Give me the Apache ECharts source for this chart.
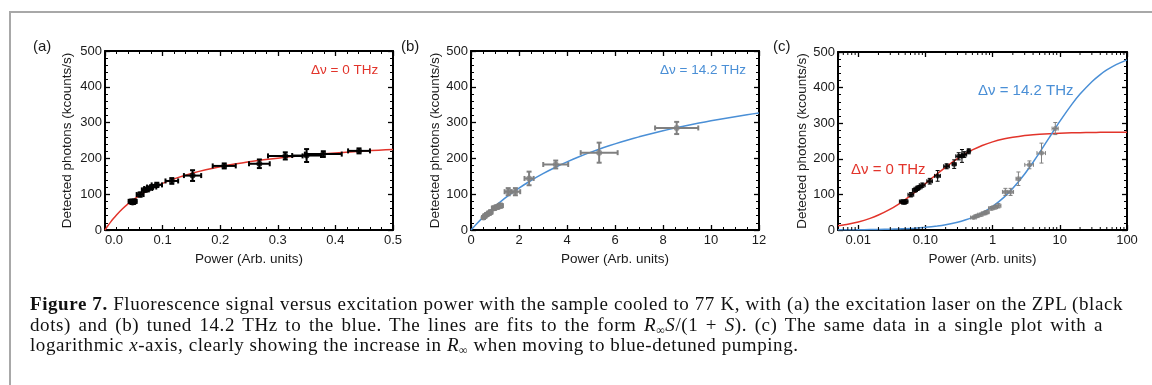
<!DOCTYPE html>
<html><head><meta charset="utf-8">
<script src="https://cdn.jsdelivr.net/npm/echarts@6/dist/echarts.min.js"></script>
<style>
html,body{margin:0;padding:0;background:#fff;}
#wrap{position:relative;width:1152px;height:385px;overflow:hidden;background:#fff;}
#chart{position:absolute;left:0;top:0;width:1152px;height:385px;}
#frame{position:absolute;left:9px;top:11px;width:1300px;height:500px;border:2px solid #a8a8a8;box-sizing:border-box;pointer-events:none;}
#cap{position:absolute;left:30px;top:294px;font-family:"Liberation Serif","DejaVu Serif",serif;font-size:19px;letter-spacing:0.57px;color:#111;line-height:20.6px;}
#cap div{white-space:nowrap;}
#cap .j1{width:1093px;text-align:justify;text-align-last:justify;}
#cap .j2{width:1073px;text-align:justify;text-align-last:justify;}
#cap sub{font-size:12px;vertical-align:-3px;line-height:0;}
</style></head>
<body>
<div id="wrap">
<div id="chart"></div>
<div id="frame"></div>
<div id="cap">
<div class="j1"><b>Figure 7.</b> Fluorescence signal versus excitation power with the sample cooled to 77 K, with (a) the excitation laser on the ZPL (black</div>
<div class="j2">dots) and (b) tuned 14.2 THz to the blue. The lines are fits to the form <i>R</i><sub>∞</sub><i>S</i>/(1 + <i>S</i>). (c) The same data in a single plot with a</div>
<div>logarithmic <i>x</i>-axis, clearly showing the increase in <i>R</i><sub>∞</sub> when moving to blue-detuned pumping.</div>
</div>
</div>
<script>
// ---- data ----
// ZPL (black) data: power, counts, power error, counts error
const zplPower  = [0.045, 0.048, 0.051, 0.061, 0.070, 0.075, 0.081, 0.090, 0.116, 0.152, 0.207, 0.268, 0.313, 0.350, 0.379, 0.441];
const zplCounts = [80, 77, 80, 99, 112, 116, 120, 126, 137, 152, 179, 185, 207, 208, 212, 221];
const zplPowErr = [0.004, 0.004, 0.004, 0.006, 0.006, 0.007, 0.008, 0.009, 0.011, 0.015, 0.020, 0.018, 0.030, 0.025, 0.032, 0.019];
const zplCntErr = [4, 4, 5, 6, 5, 5, 5, 6, 8, 15, 7, 12, 10, 18, 8, 7];
// blue-detuned (gray) data
const blPower  = [0.52, 0.58, 0.66, 0.75, 0.82, 0.96, 1.08, 1.22, 1.55, 1.85, 2.42, 3.53, 5.34, 8.57];
const blCounts = [35, 39, 43, 47, 50, 61, 64, 68, 107, 107, 144, 183, 216, 285];
const blPowErr = [0.05, 0.05, 0.06, 0.07, 0.07, 0.09, 0.10, 0.11, 0.15, 0.20, 0.19, 0.52, 0.77, 0.90];
const blCntErr = [3, 4, 4, 4, 4, 5, 5, 6, 10, 10, 19, 11, 28, 17];
// fit curves
const fitA_x = [0, 0.0025, 0.005, 0.01, 0.015, 0.02, 0.03, 0.04, 0.05, 0.06, 0.08, 0.1, 0.125, 0.15, 0.175, 0.2, 0.225, 0.25, 0.275, 0.3, 0.325, 0.35, 0.375, 0.4, 0.425, 0.45, 0.475, 0.5];
const fitA_y = [0, 6.06, 11.85, 22.73, 32.74, 41.98, 58.51, 72.85, 85.40, 96.49, 115.18, 130.33, 145.66, 158.05, 168.27, 176.85, 184.15, 190.44, 195.92, 200.73, 204.99, 208.79, 212.19, 215.26, 218.05, 220.59, 222.91, 225.04];
const fitB_x = [0, 0.25, 0.5, 0.75, 1, 1.5, 2, 2.5, 3, 3.5, 4, 4.5, 5, 5.5, 6, 6.5, 7, 7.5, 8, 8.5, 9, 9.5, 10, 10.5, 11, 11.5, 12];
const fitB_y = [0, 18.29, 35.32, 51.20, 66.06, 93.07, 116.97, 138.29, 157.41, 174.66, 190.30, 204.55, 217.58, 229.54, 240.57, 250.76, 260.20, 268.99, 277.17, 284.82, 291.98, 298.71, 305.02, 310.98, 316.59, 321.90, 326.92];
const fitC_x = [0.005, 0.007, 0.01, 0.015, 0.02, 0.03, 0.04, 0.05, 0.07, 0.1, 0.15, 0.2, 0.3, 0.4, 0.5, 0.7, 1, 1.5, 2, 3, 4, 5, 7, 10, 15, 20, 30, 40, 50, 70, 100];
const fitCred_y = [11.85, 16.31, 22.73, 32.74, 41.98, 58.51, 72.85, 85.40, 106.35, 130.33, 158.05, 176.85, 200.73, 215.26, 225.04, 237.36, 247.52, 256.05, 260.54, 265.19, 267.57, 269.03, 270.71, 271.98, 272.98, 273.48, 273.99, 274.24, 274.39, 274.56, 274.70];
const fitCblue_y = [0.38, 0.53, 0.76, 1.14, 1.51, 2.27, 3.02, 3.77, 5.26, 7.48, 11.14, 14.74, 21.79, 28.65, 35.32, 48.11, 66.06, 93.07, 116.97, 157.41, 190.30, 217.58, 260.20, 305.02, 352.21, 381.74, 416.67, 436.64, 449.58, 465.33, 477.89];
// tick labels / tick positions for the log axis
const logTickVals = [0.01, 0.1, 1, 10, 100];
const logTickLabels = ['0.01', '0.10', '1', '10', '100'];
const logMinorTicks = [0.006, 0.007, 0.008, 0.009, 0.02, 0.03, 0.04, 0.05, 0.06, 0.07, 0.08, 0.09,
  0.2, 0.3, 0.4, 0.5, 0.6, 0.7, 0.8, 0.9, 2, 3, 4, 5, 6, 7, 8, 9, 20, 30, 40, 50, 60, 70, 80, 90];

const zip = (...arrs) => arrs[0].map((_, i) => arrs.map(a => a[i]));

const RED = '#e2342b', BLUE = '#4a8fd6', GRAY = '#808080';
const grids = [
  {left: 105, top: 51, width: 288, height: 179},
  {left: 471, top: 51, width: 288, height: 179},
  {left: 838, top: 52, width: 289, height: 178}
];
const FONT = 'Liberation Sans, Arial, sans-serif';

function xAxes(gi, base, extra) {
  const common = Object.assign({
    gridIndex: gi, axisLine: {onZero: false, lineStyle: {color: '#000', width: 2}},
    axisTick: {inside: true, length: 5, lineStyle: {color: '#000', width: 1.3}},
    minorTick: {show: true, splitNumber: 5, length: 3, lineStyle: {color: '#000', width: 1}},
    splitLine: {show: false}
  }, base);
  return [
    Object.assign({}, common, {position: 'bottom',
      name: 'Power (Arb. units)', nameLocation: 'middle', nameGap: 22,
      nameTextStyle: {fontFamily: FONT, fontSize: 13.5, color: '#1a1a1a'},
      axisLabel: Object.assign({fontFamily: FONT, fontSize: 13, color: '#1a1a1a', margin: 4}, extra || {})}),
    Object.assign({}, common, {position: 'top', axisLabel: {show: false}})
  ];
}
function yAxes(gi, gap) {
  const common = {
    gridIndex: gi, type: 'value', min: 0, max: 500, interval: 100,
    axisLine: {onZero: false, lineStyle: {color: '#000', width: 2}},
    axisTick: {inside: true, length: 5, lineStyle: {color: '#000', width: 1.3}},
    minorTick: {show: true, splitNumber: 5, length: 3, lineStyle: {color: '#000', width: 1}},
    splitLine: {show: false}
  };
  return [
    Object.assign({}, common, {position: 'left',
      name: 'Detected photons (kcounts/s)', nameLocation: 'middle', nameGap: gap, nameRotate: 90,
      nameTextStyle: {fontFamily: FONT, fontSize: 13.5, color: '#1a1a1a'},
      axisLabel: {fontFamily: FONT, fontSize: 13, color: '#1a1a1a', margin: 3}}),
    Object.assign({}, common, {position: 'right', axisLabel: {show: false}})
  ];
}

const xAxis = [].concat(
  xAxes(0, {type: 'value', min: 0, max: 0.5, interval: 0.1}, {formatter: v => v.toFixed(1), alignMinLabel: 'left'}),
  xAxes(1, {type: 'value', min: 0, max: 12, interval: 2, minorTick: {show: true, splitNumber: 4, length: 3, lineStyle: {color: '#000', width: 1}}}),
  xAxes(2, {type: 'log', logBase: 10, min: 0.005, max: 100, minorTick: {show: false}},
    {showMinLabel: false, formatter: v => {
      let best = 0; for (let i = 0; i < logTickVals.length; i++) if (Math.abs(Math.log10(v) - Math.log10(logTickVals[i])) < Math.abs(Math.log10(v) - Math.log10(logTickVals[best]))) best = i;
      return logTickLabels[best];
    }})
);
const yAxis = [].concat(yAxes(0, 31), yAxes(1, 29), yAxes(2, 26));

function errSeries(xi, yi, data, color, lw, cap) {
  return {
    type: 'custom', xAxisIndex: xi, yAxisIndex: yi, data: data, z: 3, silent: true,
    encode: {x: 0, y: 1},
    renderItem: (params, api) => {
      const x = api.value(0), y = api.value(1), xe = api.value(2), ye = api.value(3);
      const c = api.coord([x, y]), l = api.coord([x - xe, y]), r = api.coord([x + xe, y]);
      const t = api.coord([x, y + ye]), b = api.coord([x, y - ye]);
      const st = {stroke: color, lineWidth: lw};
      const ln = (x1, y1, x2, y2) => ({type: 'line', shape: {x1, y1, x2, y2}, style: st});
      return {type: 'group', children: [
        ln(l[0], c[1], r[0], c[1]), ln(c[0], t[1], c[0], b[1]),
        ln(l[0], c[1] - cap, l[0], c[1] + cap), ln(r[0], c[1] - cap, r[0], c[1] + cap),
        ln(c[0] - cap, t[1], c[0] + cap, t[1]), ln(c[0] - cap, b[1], c[0] + cap, b[1])
      ]};
    }
  };
}
function minorLogTicks(xi, yi) {
  return {
    type: 'custom', xAxisIndex: xi, yAxisIndex: yi, data: logMinorTicks.map(v => [v, 0]), z: 5, silent: true,
    clip: false, encode: {x: 0, y: 1},
    renderItem: (params, api) => {
      const v = api.value(0);
      const b = api.coord([v, 0]), t = api.coord([v, 500]);
      const st = {stroke: '#000', lineWidth: 1};
      return {type: 'group', children: [
        {type: 'line', shape: {x1: b[0], y1: b[1], x2: b[0], y2: b[1] - 3}, style: st},
        {type: 'line', shape: {x1: t[0], y1: t[1], x2: t[0], y2: t[1] + 3}, style: st}
      ]};
    }
  };
}
function pts(xi, yi, xs, ys, color, size) {
  return {type: 'scatter', xAxisIndex: xi, yAxisIndex: yi, data: zip(xs, ys), symbol: 'circle',
    symbolSize: size, itemStyle: {color: color}, z: 4, silent: true};
}
function fit(xi, yi, xs, ys, color) {
  return {type: 'line', xAxisIndex: xi, yAxisIndex: yi, data: zip(xs, ys), smooth: 0.15,
    showSymbol: false, symbol: 'none', lineStyle: {color: color, width: 1.5}, z: 2, silent: true};
}

const zplErr = zip(zplPower, zplCounts, zplPowErr, zplCntErr);
const blErr = zip(blPower, blCounts, blPowErr, blCntErr);

const series = [
  fit(0, 0, fitA_x, fitA_y, RED),
  errSeries(0, 0, zplErr, '#000', 2, 2.5),
  pts(0, 0, zplPower, zplCounts, '#000', 6),
  fit(2, 2, fitB_x, fitB_y, BLUE),
  errSeries(2, 2, blErr, GRAY, 2, 2.5),
  pts(2, 2, blPower, blCounts, GRAY, 6),
  fit(4, 4, fitC_x, fitCred_y, RED),
  fit(4, 4, fitC_x, fitCblue_y, BLUE),
  errSeries(4, 4, zplErr, '#000', 1, 2),
  pts(4, 4, zplPower, zplCounts, '#000', 5),
  errSeries(4, 4, blErr, GRAY, 1, 2),
  pts(4, 4, blPower, blCounts, GRAY, 5),
  minorLogTicks(4, 4)
];

const txt = (x, y, s, color, size, align) => ({type: 'text', x: x, y: y,
  style: {text: s, fill: color, font: size + 'px ' + FONT, textAlign: align || 'left', textVerticalAlign: 'middle'}});

const chart = echarts.init(document.getElementById('chart'), null, {renderer: 'canvas'});
chart.setOption({
  animation: false,
  backgroundColor: '#fff',
  grid: grids,
  xAxis: xAxis,
  yAxis: yAxis,
  series: series,
  graphic: [
    txt(33, 47, '(a)', '#1a1a1a', 15),
    txt(401, 47, '(b)', '#1a1a1a', 15),
    txt(773, 47, '(c)', '#1a1a1a', 15),
    txt(311, 70, 'Δν = 0 THz', RED, 13.5),
    txt(660, 70, 'Δν = 14.2 THz', BLUE, 13.5),
    txt(978, 91, 'Δν = 14.2 THz', BLUE, 15),
    txt(851, 170, 'Δν = 0 THz', RED, 15)
  ]
});
</script>
</body></html>
